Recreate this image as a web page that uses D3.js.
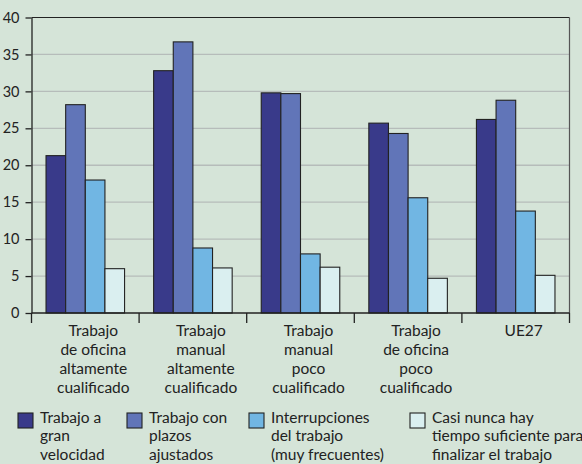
<!DOCTYPE html>
<html>
<head>
<meta charset="utf-8">
<script src="https://cdn.jsdelivr.net/npm/d3@7"></script>
<style>
  html, body { margin: 0; padding: 0; background: #d5e4d8; }
  svg { display: block; font-family: Lato, "Noto Sans", sans-serif; }
</style>
</head>
<body>
<svg width="582" height="464"></svg>
<script>
// categories (each label split in lines)
const categories = [
  ['Trabajo', 'de oficina', 'altamente', 'cualificado'],
  ['Trabajo', 'manual', 'altamente', 'cualificado'],
  ['Trabajo', 'manual', 'poco', 'cualificado'],
  ['Trabajo', 'de oficina', 'poco', 'cualificado'],
  ['UE27']
];
const seriesNames = [
  ['Trabajo a', 'gran', 'velocidad'],
  ['Trabajo con', 'plazos', 'ajustados'],
  ['Interrupciones', 'del trabajo', '(muy frecuentes)'],
  ['Casi nunca hay', 'tiempo suficiente para', 'finalizar el trabajo']
];
const granVelocidad = [21.3, 32.8, 29.8, 25.7, 26.2];
const plazosAjustados = [28.2, 36.7, 29.7, 24.3, 28.8];
const interrupciones = [18.0, 8.8, 8.0, 15.6, 13.8];
const sinTiempo = [6.0, 6.1, 6.2, 4.7, 5.1];
const yTicks = [0, 5, 10, 15, 20, 25, 30, 35, 40];

const series = [granVelocidad, plazosAjustados, interrupciones, sinTiempo];
const colors = ['#393a8a', '#6175b8', '#71b6e3', '#daeff0'];

const svg = d3.select('svg');
const pL = 31.5, pT = 17.5, pR = 569.5, pB = 313;

const catIdx = d3.range(categories.length);
const scX = d3.scaleBand().domain(catIdx).range([pL, pR]).padding(0);
const scInner = d3.scaleBand().domain(d3.range(series.length))
  .range([0, scX.bandwidth()]).paddingInner(0).paddingOuter(0.74);
const scY = d3.scaleLinear().domain([0, 40]).range([pB, pT]);

// gridlines
svg.append('g').selectAll('line').data(yTicks.filter(d => d > 0 && d < 40)).enter()
  .append('line')
  .attr('x1', pL).attr('x2', pR)
  .attr('y1', d => scY(d)).attr('y2', d => scY(d))
  .attr('stroke', '#b6bcba').attr('stroke-width', 1.3);

// frame
svg.append('line').attr('x1', pL).attr('x2', pR)
  .attr('y1', pT).attr('y2', pT).attr('stroke', '#222').attr('stroke-width', 1.2);
svg.append('line').attr('x1', pR).attr('x2', pR)
  .attr('y1', pT).attr('y2', pB).attr('stroke', '#555').attr('stroke-width', 1.2);

// bars
const groups = svg.append('g').selectAll('g').data(catIdx).enter()
  .append('g').attr('transform', i => 'translate(' + scX(i) + ',0)');
groups.selectAll('rect')
  .data(i => series.map((s, k) => ({ k: k, v: s[i] })))
  .enter().append('rect')
  .attr('x', d => scInner(d.k))
  .attr('width', scInner.bandwidth())
  .attr('y', d => scY(d.v))
  .attr('height', d => scY(0) - scY(d.v))
  .attr('fill', d => colors[d.k])
  .attr('stroke', '#222').attr('stroke-width', 1.1);

// y axis
const yAx = svg.append('g').attr('transform', 'translate(' + pL + ',0)')
  .call(d3.axisLeft(scY).tickValues(yTicks).tickSize(6).tickPadding(6).tickSizeOuter(0));
yAx.selectAll('text').attr('font-size', 14.5).attr('fill', '#222')
  .attr('font-family', 'Lato, "Noto Sans", sans-serif');
yAx.selectAll('line, path').attr('stroke', '#222').attr('stroke-width', 1.3);

// x axis: ticks on category boundaries
const bounds = catIdx.map(i => scX(i)).concat([pR]);
const xAx = svg.append('g');
xAx.append('line').attr('x1', pL).attr('x2', pR)
  .attr('y1', pB).attr('y2', pB).attr('stroke', '#222').attr('stroke-width', 1.3);
xAx.selectAll('.tk').data(bounds).enter().append('line')
  .attr('x1', d => d).attr('x2', d => d)
  .attr('y1', pB).attr('y2', pB + 10)
  .attr('stroke', '#222').attr('stroke-width', 1.3);

const lbl = svg.append('g').selectAll('text').data(catIdx).enter()
  .append('text')
  .attr('text-anchor', 'middle')
  .attr('font-size', 15.5).attr('fill', '#222');
lbl.selectAll('tspan').data(i => categories[i].map(t => ({ i: i, t: t }))).enter()
  .append('tspan')
  .attr('x', d => scX(d.i) + scX.bandwidth() / 2 + 8)
  .attr('y', (d, j) => 336 + j * 18.9)
  .text(d => d.t);

// legend
const legX = [18, 127, 249, 410];
const leg = svg.append('g').selectAll('g').data(seriesNames).enter()
  .append('g').attr('transform', (d, k) => 'translate(' + legX[k] + ',413)');
leg.append('rect').attr('width', 15).attr('height', 15)
  .attr('fill', (d, k) => colors[k]).attr('stroke', '#222').attr('stroke-width', 1.1);
leg.append('text').attr('font-size', 15.5).attr('fill', '#222')
  .selectAll('tspan').data(d => d).enter().append('tspan')
  .attr('x', 22).attr('y', (d, j) => 10 + j * 18.3)
  .text(d => d);
</script>
</body>
</html>
